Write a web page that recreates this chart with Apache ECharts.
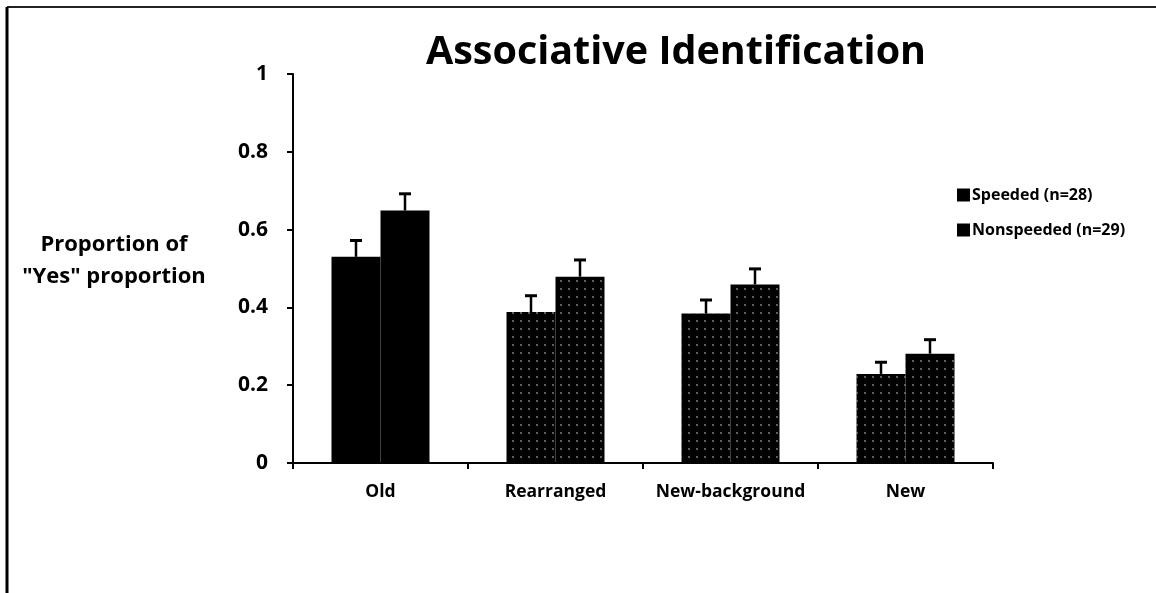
<!DOCTYPE html>
<html>
<head>
<meta charset="utf-8">
<script src="https://cdn.jsdelivr.net/npm/echarts@6/dist/echarts.min.js"></script>
<style>
html,body{margin:0;padding:0;background:#fff;}
#chart{width:1156px;height:593px;}
</style>
</head>
<body>
<div id="chart"></div>
<script>
const titleText = 'Associative Identification';
const categories = ['Old', 'Rearranged', 'New-background', 'New'];
const seriesNames = ['Speeded (n=28)', 'Nonspeeded (n=29)'];
const speeded = [0.53, 0.388, 0.384, 0.229];
const speededErr = [0.042, 0.042, 0.035, 0.030];
const nonspeeded = [0.649, 0.479, 0.459, 0.281];
const nonspeededErr = [0.043, 0.043, 0.040, 0.036];
const yTicks = [0, 0.2, 0.4, 0.6, 0.8, 1];
const yAxisTitle = 'Proportion of\n"Yes" proportion';
const solidCategories = ['Old'];

const FONT = '"Open Sans"';
const dotDecal = {
  symbol: 'circle',
  symbolSize: 0.7,
  color: '#ffffff',
  dashArrayX: [2, 6],
  dashArrayY: [2, 6],
  rotation: 0
};

function barData(vals) {
  return vals.map((v, i) => solidCategories.includes(categories[i])
    ? { value: v }
    : { value: v, itemStyle: { decal: dotDecal } });
}

function errData(vals, errs) {
  return vals.map((v, i) => [i, v, errs[i]]);
}

function errRender(sign) {
  return function (params, api) {
    const i = api.value(0), v = api.value(1), e = api.value(2);
    const bw = api.size([1, 0])[0];
    const off = sign * bw * 0.14;
    const p0 = api.coord([i, v]);
    const p1 = api.coord([i, v + e]);
    const x = p0[0] + off;
    const cap = 6;
    return {
      type: 'group',
      children: [
        { type: 'line', shape: { x1: x, y1: p0[1], x2: x, y2: p1[1] }, style: { stroke: '#000', lineWidth: 2.5 } },
        { type: 'line', shape: { x1: x - cap, y1: p1[1], x2: x + cap, y2: p1[1] }, style: { stroke: '#000', lineWidth: 3 } }
      ]
    };
  };
}

const chart = echarts.init(document.getElementById('chart'), null, { renderer: 'canvas' });
chart.setOption({
  animation: false,
  backgroundColor: '#fff',
  title: {
    text: titleText,
    left: 671,
    textAlign: 'center',
    top: 28,
    textStyle: { fontFamily: FONT, fontWeight: 'bold', fontSize: 39.5, color: '#000' }
  },
  legend: {
    data: seriesNames,
    orient: 'vertical',
    left: 952,
    top: 182,
    itemWidth: 13,
    itemHeight: 13,
    itemGap: 19,
    icon: 'rect',
    textStyle: { fontFamily: FONT, fontWeight: 'bold', fontSize: 16, color: '#000', padding: [0, 0, 0, -3] }
  },
  grid: { left: 293, right: 163, top: 74, bottom: 130, containLabel: false },
  xAxis: {
    type: 'category',
    data: categories,
    axisLine: { lineStyle: { color: '#000', width: 2 } },
    axisTick: { show: true, interval: 0, length: 6, lineStyle: { color: '#000', width: 2 } },
    axisLabel: { interval: 0, color: '#000', fontFamily: FONT, fontWeight: 'bold', fontSize: 17.5, margin: 20 },
    splitLine: { show: false }
  },
  yAxis: {
    type: 'value',
    min: 0,
    max: 1,
    interval: 0.2,
    axisLine: { show: true, lineStyle: { color: '#000', width: 2 } },
    axisTick: { show: true, length: 6, lineStyle: { color: '#000', width: 2 } },
    axisLabel: {
      color: '#000', fontFamily: FONT, fontWeight: 'bold', fontSize: 21, margin: 25,
      formatter: v => { const t = yTicks.find(k => Math.abs(k - v) < 1e-9); return t === undefined ? '' : String(t); }
    },
    splitLine: { show: false }
  },
  graphic: [
    { type: 'line', shape: { x1: 7, y1: 7, x2: 1156, y2: 7 }, style: { stroke: '#222', lineWidth: 2 } },
    { type: 'line', shape: { x1: 7, y1: 7, x2: 7, y2: 593 }, style: { stroke: '#000', lineWidth: 3 } },
    {
      type: 'text', x: 114, y: 261,
      style: {
        text: yAxisTitle, fill: '#000', align: 'center', verticalAlign: 'middle',
        fontFamily: 'Open Sans', fontWeight: 'bold', fontSize: 22, lineHeight: 32
      }
    }
  ],
  series: [
    { name: seriesNames[0], type: 'bar', data: barData(speeded), barWidth: '28%', barGap: '0%', itemStyle: { color: '#000' } },
    { name: seriesNames[1], type: 'bar', data: barData(nonspeeded), barWidth: '28%', barGap: '0%', itemStyle: { color: '#000' } },
    { type: 'custom', renderItem: errRender(-1), data: errData(speeded, speededErr), encode: { x: 0, y: 1 }, z: 5, silent: true },
    { type: 'custom', renderItem: errRender(1), data: errData(nonspeeded, nonspeededErr), encode: { x: 0, y: 1 }, z: 5, silent: true }
  ]
});
</script>
</body>
</html>
